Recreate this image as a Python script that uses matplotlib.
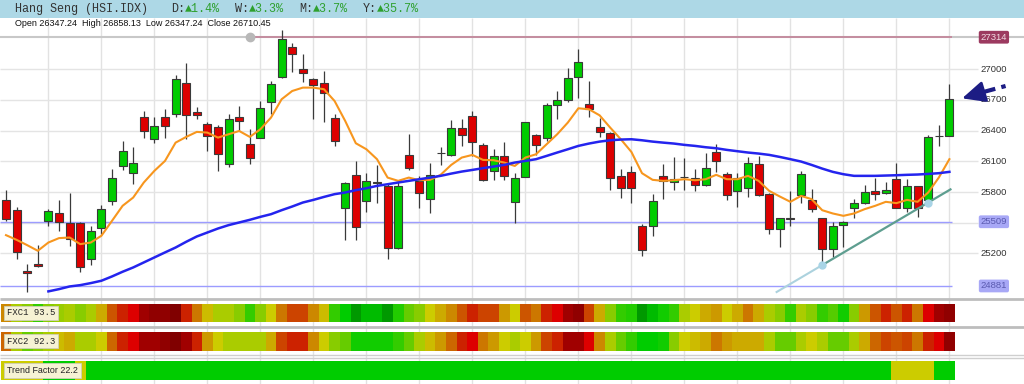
import matplotlib
matplotlib.use("Agg")
import matplotlib.pyplot as plt
import numpy as np

plt.rcParams['font.family'] = ['Liberation Sans', 'DejaVu Sans']

# ---- data (90 daily candles) ----
opens = [25717, 25626, 25029, 25095, 25518, 25593, 25495, 25492, 25143, 25446,
         25713, 26052, 25990, 26537, 26322, 26537, 26560, 26870, 26583, 26463,
         26440, 26072, 26537, 26270, 26326, 26684, 26928, 27221, 27006, 26902,
         26870, 26528, 25639, 25971, 25714, 25895, 25860, 25254, 26166, 25909,
         25730, 26180, 26166, 26430, 26544, 26261, 26006, 26153, 25707, 25942,
         26355, 26326, 26655, 26700, 26928, 26658, 26440, 26381, 25958, 26000,
         25463, 25463, 25954, 25899, 25947, 25941, 25867, 26192, 25980, 25808,
         25837, 26072, 25785, 25437, 25543, 25772, 25720, 25544, 25241, 25479,
         25639, 25697, 25805, 25789, 25932, 25648, 25860, 25723, 26348, 26347.24]
highs = [25821, 25655, 25094, 25280, 25632, 25723, 25788, 25508, 25469, 25671,
         26029, 26300, 26244, 26593, 26534, 26609, 26941, 27059, 26635, 26485,
         26453, 26560, 26642, 26414, 26691, 26886, 27385, 27260, 27153, 26918,
         26984, 26560, 25893, 26104, 25990, 26062, 25876, 25893, 26371, 25958,
         26081, 26244, 26505, 26518, 26593, 26283, 26225, 26290, 25981, 26489,
         26371, 26668, 26788, 27016, 27196, 26886, 26528, 26391, 26029, 26055,
         25486, 25779, 26072, 26143, 26137, 26023, 26179, 26267, 25997, 25990,
         26143, 26153, 25795, 25541, 25805, 26006, 25827, 25544, 25502, 25518,
         25736, 25866, 25935, 25899, 26088, 25925, 25860, 26355, 26453, 26858.13]
lows = [25518, 25143, 24818, 25062, 25469, 25420, 25274, 25013, 25085, 25388,
        25671, 26016, 25876, 26332, 26283, 26332, 26537, 26316, 26518, 26202,
        26007, 26049, 26397, 26072, 26326, 26560, 26918, 26974, 26876, 26518,
        26485, 26251, 25332, 25332, 25600, 25691, 25143, 25241, 26016, 25648,
        25590, 26062, 26153, 26251, 26153, 25909, 25919, 25919, 25495, 25942,
        26160, 26300, 26511, 26684, 26723, 26537, 26342, 25821, 25740, 25697,
        25176, 25365, 25736, 25821, 25821, 25805, 25860, 25997, 25723, 25655,
        25756, 25762, 25388, 25258, 25470, 25697, 25606, 25078, 25166, 25258,
        25544, 25681, 25723, 25779, 25642, 25606, 25551, 25704, 26251, 26347.24]
closes = [25534, 25209, 25010, 25075, 25616, 25508, 25345, 25062, 25420, 25632,
          25935, 26199, 26088, 26397, 26446, 26446, 26909, 26554, 26557, 26349,
          26169, 26518, 26495, 26137, 26625, 26860, 27293, 27153, 26967, 26844,
          26765, 26300, 25886, 25453, 25909, 25890, 25254, 25860, 26039, 25795,
          25971, 26178, 26430, 26355, 26290, 25915, 26153, 25958, 25935, 26489,
          26257, 26655, 26697, 26918, 27075, 26609, 26391, 25935, 25844, 25844,
          25231, 25713, 25906, 25928, 25950, 25867, 26039, 26104, 25769, 25935,
          26088, 25775, 25437, 25541, 25539, 25980, 25632, 25241, 25469, 25502,
          25691, 25801, 25782, 25824, 25648, 25860, 25642, 26342, 26352, 26710.45]

ma_fast = [25378, 25332, 25280, 25225, 25306, 25349, 25355, 25290, 25306, 25372,
           25518, 25665, 25746, 25893, 26007, 26104, 26283, 26339, 26388, 26381,
           26332, 26365, 26397, 26339, 26414, 26528, 26707, 26788, 26821, 26821,
           26805, 26690, 26495, 26277, 26218, 26121, 25941, 25909, 25941, 25915,
           25919, 25968, 26065, 26137, 26163, 26114, 26111, 26088, 26055, 26137,
           26169, 26267, 26365, 26479, 26619, 26609, 26550, 26430, 26316, 26192,
           25984, 25919, 25909, 25915, 25925, 25915, 25925, 25968, 25925, 25925,
           25958, 25909, 25811, 25756, 25704, 25762, 25730, 25622, 25590, 25567,
           25590, 25632, 25665, 25704, 25691, 25723, 25704, 25795, 25941, 26121]
# slow average starts at candle 5
ma_slow = [24828, 24850, 24876, 24889, 24909, 24932, 24974, 25020, 25062, 25111,
           25160, 25209, 25257, 25313, 25365, 25404, 25443, 25476, 25502, 25528,
           25557, 25583, 25622, 25658, 25697, 25723, 25752, 25779, 25795, 25818,
           25837, 25860, 25876, 25893, 25909, 25925, 25941, 25958, 25980, 26000,
           26016, 26033, 26049, 26065, 26088, 26104, 26121, 26153, 26186, 26218,
           26251, 26274, 26293, 26306, 26313, 26316, 26306, 26293, 26283, 26274,
           26261, 26251, 26238, 26228, 26212, 26199, 26186, 26176, 26163, 26143,
           26121, 26098, 26065, 26029, 25997, 25974, 25958, 25958, 25958, 25961,
           25964, 25968, 25971, 25977, 25984, 25997]

# colour levels of the indicator strips (0 = dark red ... 24 = dark green)
fxc1 = [9, 14, 16, 19, 16, 15, 14, 16, 14, 11, 6, 4, 3, 2, 1, 1, 0, 4, 8, 12,
        14, 14, 16, 19, 16, 13, 8, 5, 5, 9, 12, 19, 22, 24, 23, 23, 24, 20, 17, 16,
        13, 11, 9, 6, 4, 5, 5, 10, 13, 6, 8, 4, 3, 2, 1, 5, 11, 16, 19, 20,
        24, 23, 21, 19, 14, 13, 11, 10, 13, 11, 8, 11, 14, 16, 19, 14, 16, 19, 18, 21,
        16, 10, 6, 4, 6, 4, 8, 3, 2, 1]
fxc2 = [7, 14, 17, 16, 14, 12, 11, 14, 14, 13, 7, 4, 3, 2, 2, 1, 0, 2, 4, 10,
        13, 14, 14, 14, 14, 11, 5, 4, 4, 9, 13, 16, 17, 21, 21, 21, 21, 19, 17, 14,
        12, 10, 7, 4, 3, 8, 10, 13, 14, 13, 10, 5, 4, 2, 2, 3, 9, 14, 17, 19,
        22, 22, 21, 16, 13, 12, 11, 8, 10, 11, 11, 11, 14, 17, 17, 14, 13, 14, 17, 17,
        14, 11, 7, 5, 6, 5, 8, 4, 3, 1]
trend = [13, 13, 13, 13, 22, 22, 22, 13] + [22] * 76 + [13, 13, 13, 13, 22, 22]

palette = ['#800000', '#900000', '#a00000', '#dd0000', '#cc2200', '#cc4400', '#cc5500',
           '#cc6600', '#cc7700', '#cc8800', '#cc9900', '#ccaa00', '#ccbb00', '#cccc00',
           '#aacc00', '#99cc00', '#88cc00', '#66cc00', '#55cc00', '#33cc00', '#22cc00',
           '#11cc00', '#00cc00', '#00bb00', '#009900']

price_ticks = [25200, 25800, 26100, 26400, 26700, 27000]
grid_levels = [25200, 25500, 25800, 26100, 26400, 26700, 27000]
resistance = 27314
support_lines = [25509, 24881]
trend_anchor = [(77, 25085), (87, 25697)]

W, H = 1024, 384
n = len(closes)
idx = np.arange(n)
x0, x1 = -6 / 10.6, (W - 6) / 10.6

fig = plt.figure(figsize=(10.24, 3.84), dpi=100)

# background layer (pixel y) for header, separators and vertical grid
bg = fig.add_axes([0, 0, 1, 1])
bg.set_xlim(x0, x1)
bg.set_ylim(H, 0)
bg.axis('off')
bg.axhspan(0, 18, color='#add8e6', lw=0)
for g in range(4, n, 5):
    bg.vlines(g, 18, H, color='#e2e2e2', lw=1)
bg.hlines([298.5, 326.5], x0, x1, color='#bdbdbd', lw=2)
bg.hlines([355, 357.5], x0, x1, color='#cfcfcf', lw=1)


def fx(px):
    return px / W


def fy(py):
    return 1 - py / H


# header
mono = ['Liberation Mono', 'DejaVu Sans Mono']
cw = 7.1
hdr = [(0, 'Hang Seng (HSI.IDX)', '#333333'),
       (22, 'D:', '#333333'), (24, '▲1.4%', '#2ea02e'),
       (31, 'W:', '#333333'), (33, '▲3.3%', '#2ea02e'),
       (40, 'M:', '#333333'), (42, '▲3.7%', '#2ea02e'),
       (49, 'Y:', '#333333'), (51, '▲35.7%', '#2ea02e')]
for pos, s, c in hdr:
    fig.text(fx(15 + cw * pos), fy(9), s, family=mono, fontsize=8.5, color=c,
             va='center', ha='left')

fig.text(fx(15), fy(23.5), 'Open 26347.24  High 26858.13  Low 26347.24  Close 26710.45',
         fontsize=6.5, color='#111111', va='center', ha='left')

# main price panel
ax = fig.add_axes([0, fy(297), 1, (297 - 18) / H])
ax.set_facecolor('none')
ax.set_xlim(x0, x1)
ax.set_ylim(24773, 27502)
ax.axis('off')

ax.hlines(grid_levels, x0, 91.7, color='#e4e4e4', lw=1, zorder=1)
ax.axhline(resistance, color='#c8c8c8', lw=1.5, zorder=1)
ax.hlines(resistance, 23, 89.2, color='#c4889c', lw=1.3, zorder=2)
ax.plot(23, resistance, 'o', color='#b8b8b8', ms=6, zorder=3)
ax.hlines(support_lines, x0, 89.2, color='#9c9cff', lw=1, zorder=2)

o = np.array(opens)
c = np.array(closes)
up = c >= o
body_lo = np.minimum(o, c)
body_h = np.maximum(np.abs(c - o), 4)
ax.vlines(idx, lows, highs, color='#3a3a3a', lw=0.9, zorder=3)
ax.bar(idx, body_h, bottom=body_lo, width=0.76,
       color=np.where(up, '#00cc00', '#dd0000'), edgecolor='#3a3a3a', lw=0.8, zorder=4)

ax.plot(idx, ma_fast, color='#f7961e', lw=1.5, zorder=5)
ax.plot(idx[4:], ma_slow, color='#2424ee', lw=1.8, zorder=5)

# trend line through two lows
(ta, pa), (tb, pb) = trend_anchor
slope = (pb - pa) / (tb - ta)
ax.plot([72.7, ta], [pa + slope * (72.7 - ta), pa], color='#acd2de', lw=1.5, zorder=5)
ax.plot([ta, 89.1], [pa, pa + slope * (89.1 - ta)], color='#5e9e90', lw=1.6, zorder=5)
ax.plot([ta, tb], [pa, pb], 'o', color='#a8d4e6', ms=5, zorder=6)

# right-hand price labels
lx = 93.2
for t in price_ticks:
    ax.text(lx, t, str(t), fontsize=6.8, color='#333333', ha='center', va='center')
ax.text(lx, resistance, str(resistance), fontsize=6.8, color='#f2dbe3', ha='center',
        va='center', bbox=dict(boxstyle='round,pad=0.2', fc='#9c3a60', ec='none'))
for s in support_lines:
    ax.text(lx, s, str(s), fontsize=6.8, color='#5a5ab0', ha='center', va='center',
            bbox=dict(boxstyle='round,pad=0.2', fc='#a8a8f6', ec='none'))

# arrow pointing at the last close
navy = '#1c1c84'
ax.annotate('', xy=(90.2, 26716), xytext=(92.0, 26772), annotation_clip=False,
            arrowprops=dict(arrowstyle='-|>,head_length=1.4,head_width=0.65',
                            color=navy, lw=2, shrinkA=0, shrinkB=0))
ax.plot([92.0, 94.3], [26772, 26837], color=navy, lw=3, dashes=(3.5, 1.5),
        solid_capstyle='butt', clip_on=False)

# indicator strips
strips = [(fxc1, 304, 321.7, 'FXC1 93.5', mono),
          (fxc2, 331.7, 350.7, 'FXC2 92.3', mono),
          (trend, 360.7, 380, 'Trend Factor 22.2', ['Liberation Sans', 'DejaVu Sans'])]
for vals, top, bot, label, fam in strips:
    sa = fig.add_axes([0, fy(bot), 1, (bot - top) / H])
    sa.set_xlim(x0, x1)
    sa.set_ylim(0, 1)
    sa.axis('off')
    sa.bar(idx, 1, bottom=0, width=1.0, color=[palette[v] for v in vals], lw=0)
    sa.text(fx(7), 0.5, label, transform=sa.transAxes if False else
            matplotlib.transforms.blended_transform_factory(fig.transFigure, sa.transAxes),
            family=fam, fontsize=6.4, color='#222222', va='center', ha='left',
            bbox=dict(boxstyle='square,pad=0.3', fc='#f6f2d4', ec='#cfcfb8', lw=0.6))

fig.savefig('out.png', dpi=100)
